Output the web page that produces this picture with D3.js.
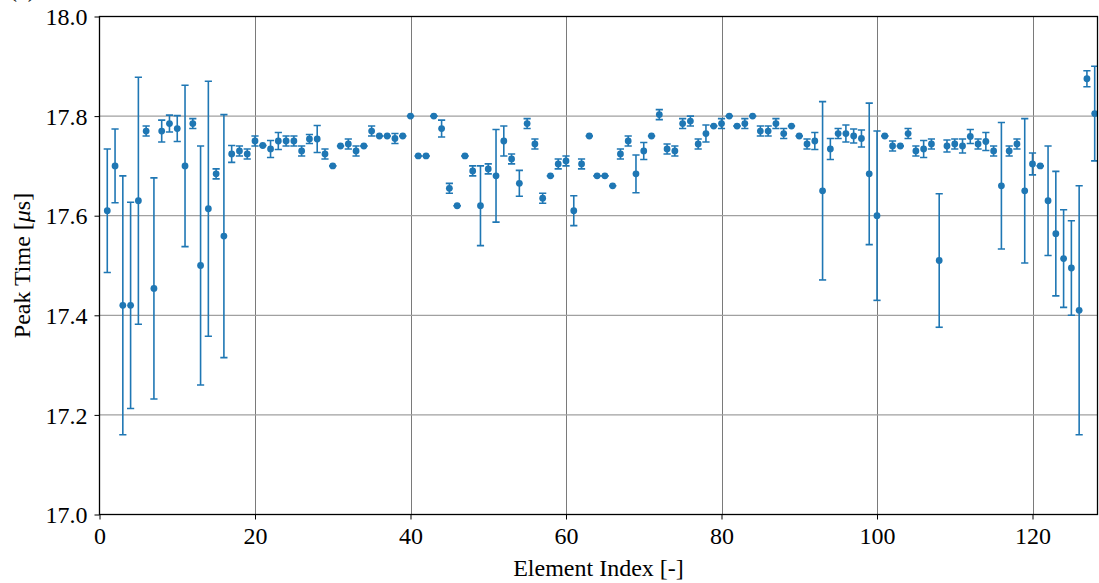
<!DOCTYPE html>
<html><head><meta charset="utf-8">
<script src="https://cdn.jsdelivr.net/npm/d3@7/dist/d3.min.js"></script>
<style>
body{margin:0;background:#fff}
svg{display:block}
svg text{font-family:"Liberation Serif","Times New Roman",serif !important;fill:#000}
</style>
</head><body>
<svg id="chart" width="1099" height="583"></svg>
<script>
// ---- data ----
const elementIndex = [1,2,3,4,5,6,7,8,9,10,11,12,13,14,15,16,17,18,19,20,21,22,23,24,25,26,27,28,29,30,31,32,33,34,35,36,37,38,39,40,41,42,43,44,45,46,47,48,49,50,51,52,53,54,55,56,57,58,59,60,61,62,63,64,65,66,67,68,69,70,71,72,73,74,75,76,77,78,79,80,81,82,83,84,85,86,87,88,89,90,91,92,93,94,95,96,97,98,99,100,101,102,103,104,105,106,107,108,109,110,111,112,113,114,115,116,117,118,119,120,121,122,123,124,125,126,127,128];
const peakTime = [
17.61,17.70,17.42,17.42,17.63,17.77,17.454,17.77,17.785,17.775,
17.70,17.785,17.50,17.614,17.684,17.559,17.724,17.73,17.724,17.75,
17.741,17.734,17.75,17.75,17.75,17.73,17.754,17.754,17.724,17.70,
17.74,17.744,17.73,17.74,17.77,17.76,17.76,17.755,17.76,17.80,
17.72,17.72,17.80,17.775,17.655,17.62,17.72,17.69,17.62,17.694,
17.68,17.75,17.714,17.665,17.785,17.744,17.635,17.68,17.704,17.71,
17.61,17.704,17.76,17.68,17.68,17.66,17.724,17.75,17.684,17.73,
17.76,17.803,17.734,17.73,17.785,17.79,17.744,17.765,17.78,17.785,
17.80,17.78,17.785,17.80,17.77,17.77,17.785,17.765,17.78,17.76,
17.744,17.75,17.65,17.734,17.765,17.765,17.76,17.755,17.684,17.60,
17.76,17.74,17.74,17.765,17.73,17.734,17.744,17.51,17.74,17.744,
17.74,17.759,17.744,17.749,17.73,17.66,17.73,17.744,17.65,17.704,
17.70,17.63,17.564,17.514,17.495,17.41,17.875,17.805];
const peakErr = [
0.124,0.074,0.26,0.207,0.248,0.01,0.222,0.022,0.017,0.026,
0.162,0.01,0.24,0.256,0.01,0.244,0.017,0.01,0.01,0.01,
0,0.017,0.017,0.01,0.01,0.01,0.009,0.027,0.01,0,
0,0.01,0.01,0,0.01,0,0,0.01,0,0,
0,0,0,0.017,0.01,0,0,0.01,0.08,0.01,
0.093,0.03,0.01,0.026,0.01,0.01,0.01,0,0.01,0.01,
0.03,0.01,0,0,0,0,0.01,0.01,0.038,0.017,
0,0.01,0.01,0.01,0.01,0.01,0.01,0.017,0,0.01,
0,0,0.01,0,0.01,0.01,0.01,0.01,0,0,
0.01,0.017,0.179,0.021,0.01,0.017,0.014,0.017,0.142,0.17,
0,0.01,0,0.01,0.01,0.017,0.01,0.134,0.012,0.01,
0.014,0.014,0.01,0.018,0.01,0.127,0.01,0.01,0.145,0.022,
0,0.11,0.125,0.098,0.095,0.25,0.016,0.095];
const xTicks = [0,20,40,60,80,100,120];
const yTicks = [17.0,17.2,17.4,17.6,17.8,18.0];
const xLabel = "Element Index [-]";
const yLabelMain = "Peak Time [";
const yLabelUnit = "\u03bc";
const yLabelEnd = "s]";

// ---- layout ----
const W = 1099, H = 583;
const mLeft = 99.5, mRight = 1097.5, mTop = 16.5, mBottom = 514.5;
const color = "#1f77b4";
const serif = '"Liberation Serif","Times New Roman",serif';

const svg = d3.select("#chart");
const x = d3.scaleLinear().domain([0, 128.36]).range([mLeft, mRight]);
const y = d3.scaleLinear().domain([17.0, 18.0]).range([mBottom, mTop]);

// partially visible panel label at the very top
svg.append("text").attr("x", 9).attr("y", -3).attr("font-size", 24).style("font-family", serif).text("(a)");

// grid
const grid = svg.append("g");
grid.selectAll("line.v").data(xTicks.filter(d => d > 0)).enter().append("line")
  .attr("x1", d => Math.round(x(d)) + 0.5).attr("x2", d => Math.round(x(d)) + 0.5)
  .attr("y1", mTop).attr("y2", mBottom)
  .attr("stroke", "#7a7a7a").attr("stroke-width", 1);
grid.selectAll("line.h").data(yTicks.filter(d => d > 17.0 && d < 18.0)).enter().append("line")
  .attr("x1", mLeft).attr("x2", mRight)
  .attr("y1", d => y(d)).attr("y2", d => y(d))
  .attr("stroke", "#a0a0a0").attr("stroke-width", 1.2);

// clip for data
svg.append("clipPath").attr("id", "clip").append("rect")
  .attr("x", mLeft).attr("y", mTop).attr("width", mRight - mLeft).attr("height", mBottom - mTop);

const pts = elementIndex.map((i, k) => ({i, v: peakTime[k], e: peakErr[k]}));
const dataG = svg.append("g").attr("clip-path", "url(#clip)");
const cap = 3.6;
const eb = dataG.selectAll("g.eb").data(pts).enter().append("g")
  .attr("stroke", color).attr("stroke-width", 1.6);
eb.append("line").attr("x1", d => x(d.i)).attr("x2", d => x(d.i))
  .attr("y1", d => y(d.v - d.e)).attr("y2", d => y(d.v + d.e));
eb.append("line").attr("x1", d => x(d.i) - cap).attr("x2", d => x(d.i) + cap)
  .attr("y1", d => y(d.v + d.e)).attr("y2", d => y(d.v + d.e));
eb.append("line").attr("x1", d => x(d.i) - cap).attr("x2", d => x(d.i) + cap)
  .attr("y1", d => y(d.v - d.e)).attr("y2", d => y(d.v - d.e));
dataG.selectAll("circle").data(pts).enter().append("circle")
  .attr("cx", d => x(d.i)).attr("cy", d => y(d.v)).attr("r", 3.4).attr("fill", color);

// axes
const fmt = d3.format(".1f");
const xAxis = svg.append("g").attr("transform", `translate(0,${mBottom})`)
  .call(d3.axisBottom(x).tickValues(xTicks).tickSize(5).tickPadding(6).tickFormat(d3.format("d")));
const yAxis = svg.append("g").attr("transform", `translate(${mLeft},0)`)
  .call(d3.axisLeft(y).tickValues(yTicks).tickSize(5).tickPadding(7).tickFormat(fmt));
[xAxis, yAxis].forEach(a => {
  a.attr("font-family", null).attr("font-size", null);
  a.select(".domain").remove();
  a.selectAll(".tick line").attr("stroke", "#000").attr("stroke-width", 1);
  a.selectAll(".tick text").style("font-family", serif).style("font-size", "24px").attr("fill", "#000");
});
xAxis.selectAll(".tick text").attr("dy", "0.75em");
yAxis.selectAll(".tick text").attr("dy", "0.34em");

// frame
svg.append("rect").attr("x", mLeft).attr("y", mTop).attr("width", mRight - mLeft).attr("height", mBottom - mTop)
  .attr("fill", "none").attr("stroke", "#000").attr("stroke-width", 1.3);

// labels
svg.append("text").attr("x", (mLeft + mRight) / 2).attr("y", 576).attr("text-anchor", "middle")
  .style("font-family", serif).attr("font-size", 24).text(xLabel);
const yl = svg.append("text").attr("transform", `translate(30,${(mTop + mBottom) / 2}) rotate(-90)`)
  .attr("text-anchor", "middle").style("font-family", serif).attr("font-size", 24);
yl.append("tspan").text(yLabelMain);
yl.append("tspan").attr("font-style", "italic").text(yLabelUnit);
yl.append("tspan").text(yLabelEnd);
</script>
</body></html>
